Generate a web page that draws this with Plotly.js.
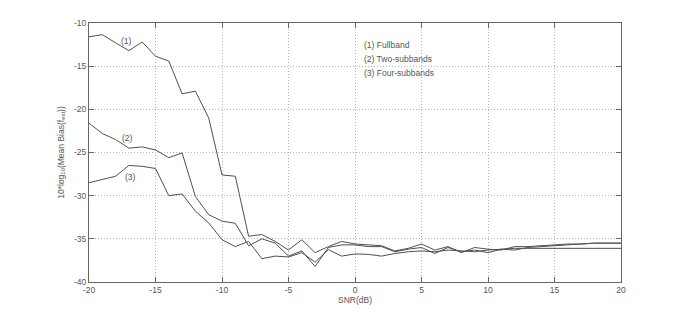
<!DOCTYPE html>
<html>
<head>
<meta charset="utf-8">
<script src="https://cdn.plot.ly/plotly-3.0.1.min.js"></script>
<style>html,body{margin:0;padding:0;background:#fff;}#chart{width:685px;height:317px;}</style>
</head>
<body>
<div id="chart"></div>
<script>
const snr = [];
for (let s = -20; s <= 20; s++) snr.push(s);

const fullband = [-11.6,-11.35,-12.3,-13.2,-12.2,-13.85,-14.4,-18.2,-17.9,-21.0,-27.6,-27.75,-34.7,-34.5,-35.3,-36.3,-35.1,-36.6,-35.9,-35.3,-35.6,-35.7,-35.8,-36.4,-36.1,-35.6,-36.3,-35.9,-36.6,-36.0,-36.2,-36.3,-35.9,-35.9,-35.8,-35.7,-35.6,-35.6,-35.5,-35.5,-35.5];
const twoSubbands = [-21.6,-22.8,-23.5,-24.5,-24.35,-24.7,-25.6,-25.05,-30.1,-32.2,-32.95,-33.2,-35.8,-35.0,-35.5,-37.0,-36.4,-38.2,-36.0,-35.7,-35.7,-35.9,-35.9,-36.5,-36.2,-36.0,-36.7,-36.0,-36.5,-36.3,-36.6,-36.2,-36.3,-36.0,-35.9,-35.8,-35.7,-35.6,-35.5,-35.5,-35.5];
const fourSubbands = [-28.5,-28.1,-27.75,-26.5,-26.6,-26.85,-30.0,-29.8,-31.8,-33.15,-35.1,-35.9,-35.3,-37.3,-37.0,-37.1,-36.6,-37.7,-36.25,-37.0,-36.75,-36.8,-37.0,-36.7,-36.5,-36.4,-36.5,-36.3,-36.4,-36.5,-36.3,-36.2,-36.1,-36.1,-36.1,-36.1,-36.1,-36.1,-36.1,-36.1,-36.1];

const xTicks = [-20,-15,-10,-5,0,5,10,15,20];
const yTicks = [-40,-35,-30,-25,-20,-15,-10];

const curveLabels = ['(1)','(2)','(3)'];
const curveLabelX = [-17.2,-17.1,-16.85];
const curveLabelY = [-12.1,-23.3,-27.8];

const legendTexts = ['(1) Fullband','(2) Two-subbands','(3) Four-subbands'];
const legendY = [-12.5,-14.2,-15.8];
const legendX = 0.5;

const lineStyle = {color:'#505050', width:1};
const font = {family:'Liberation Sans, Arial, sans-serif', size:8.5, color:'#555'};

const traces = [fullband, twoSubbands, fourSubbands].map(v => ({
  x: snr, y: v, type:'scatter', mode:'lines', line: lineStyle, hoverinfo:'skip'
}));

const annotations = [];
curveLabels.forEach((t,i) => annotations.push({x:curveLabelX[i], y:curveLabelY[i], text:t, showarrow:false, font:font, xanchor:'center', yanchor:'middle'}));
legendTexts.forEach((t,i) => annotations.push({x:legendX, y:legendY[i], text:t, showarrow:false, font:font, xanchor:'left', yanchor:'middle'}));

const axisCommon = {
  showline:true, linecolor:'#666', linewidth:1, mirror:'ticks',
  ticks:'inside', ticklen:5, tickcolor:'#666',
  showgrid:true, gridcolor:'#b4b4b4', griddash:'1px,2px', gridwidth:1,
  zeroline:false, tickfont:font
};

const layout = {
  width:685, height:317,
  margin:{l:89, r:64, t:23, b:35},
  paper_bgcolor:'#fff', plot_bgcolor:'#fff',
  showlegend:false,
  xaxis: Object.assign({}, axisCommon, {
    range:[-20,20], tickvals:xTicks, ticktext:xTicks.map(String),
    title:{text:'SNR(dB)', font:font, standoff:1}
  }),
  yaxis: Object.assign({}, axisCommon, {
    range:[-40,-10], tickvals:yTicks, ticktext:yTicks.map(String),
    title:{text:'10*log<sub>10</sub>(Mean Bias(f<sub>est</sub>))', font:font, standoff:8}
  }),
  annotations: annotations
};

Plotly.newPlot('chart', traces, layout, {displayModeBar:false, staticPlot:true});
</script>
</body>
</html>
